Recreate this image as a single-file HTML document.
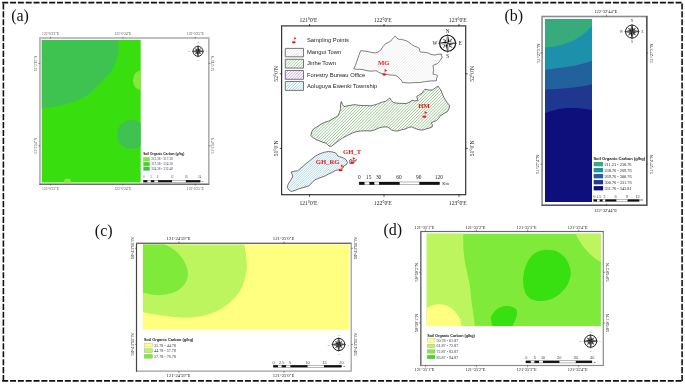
<!DOCTYPE html>
<html lang="en">
<head>
<meta charset="utf-8">
<title>Study area and soil organic carbon maps</title>
<style>
html,body{margin:0;padding:0;background:#fff;}
body{width:685px;height:384px;overflow:hidden;}
svg{display:block;}
text{white-space:pre;}
</style>
</head>
<body>
<svg width="685" height="384" viewBox="0 0 685 384">
<defs>
<clipPath id="clipA"><rect x="41.8" y="40.1" width="98.9" height="142.4"/></clipPath>
<clipPath id="clipB"><rect x="545" y="18.9" width="47.1" height="183.1"/></clipPath>
<clipPath id="clipC"><rect x="143.0" y="244.6" width="206.4" height="85.2"/></clipPath>
<clipPath id="clipD"><rect x="426.8" y="233.7" width="174.1" height="92.3"/></clipPath>
</defs>
<rect x="0" y="0" width="685" height="384" fill="#fff"/>

<g stroke="#111" stroke-width="1.6" fill="none">
<line x1="2.21" y1="2.6" x2="682.95" y2="2.6" stroke-dasharray="6 1.83"/>
<line x1="2.21" y1="380.9" x2="682.95" y2="380.9" stroke-dasharray="6 1.83"/>
<line x1="3.4" y1="3.40" x2="3.4" y2="381.75" stroke-dasharray="6.15 1.755"/>
<line x1="682.1" y1="3.40" x2="682.1" y2="381.75" stroke-dasharray="6.15 1.755"/>
</g>
<text x="11.2" y="21.0" font-size="16" font-family='"Liberation Serif", serif' fill="#111">(a)</text>
<text x="504.5" y="20.7" font-size="16" font-family='"Liberation Serif", serif' fill="#111">(b)</text>
<text x="94.8" y="235.6" font-size="16" font-family='"Liberation Serif", serif' fill="#111">(c)</text>
<text x="383.5" y="235.4" font-size="16" font-family='"Liberation Serif", serif' fill="#111">(d)</text>
<g id="panelA">
<rect x="39.95" y="38.0" width="168.85" height="146.2" fill="#fff" stroke="#adadad" stroke-width="1.6"/>
<line x1="39.2" y1="38.0" x2="209.3" y2="38.0" stroke="#c2c2c2" stroke-width="1.4"/>
<line x1="39.2" y1="184.2" x2="209.3" y2="184.2" stroke="#5a5a5a" stroke-width="1.1"/>
<g clip-path="url(#clipA)">
<rect x="41" y="39" width="101" height="145" fill="#38de0e"/>
<path d="M41,39 L118.30,39.00 C118.30,40.93 118.65,46.93 118.30,50.60 C117.95,54.27 117.42,57.53 116.20,61.00 C114.98,64.47 113.27,68.10 111.00,71.40 C108.73,74.70 105.55,77.67 102.60,80.80 C99.65,83.93 96.77,87.23 93.30,90.20 C89.83,93.17 86.15,96.33 81.80,98.60 C77.45,100.87 72.07,102.42 67.20,103.80 C62.33,105.18 56.97,106.12 52.60,106.90 C48.23,107.68 42.93,108.23 41.00,108.50 Z" fill="#3fc350"/>
<ellipse cx="131.6" cy="134.4" rx="14.5" ry="14.7" fill="#3fc350"/>
<ellipse cx="141.2" cy="80.3" rx="8.3" ry="9.9" fill="#84e93c"/>
<ellipse cx="67.5" cy="182.8" rx="3.6" ry="4.2" fill="#84e93c"/>
</g>
<g>
<circle cx="198.0" cy="51.3" r="5.0" fill="#fff" stroke="#1a1a1a" stroke-width="0.90"/>
<polygon points="200.83,48.47 198.95,52.25 198.0,51.3" fill="#1a1a1a"/>
<polygon points="200.83,48.47 197.05,50.35 198.0,51.3" fill="#6a6a6a" stroke="#1a1a1a" stroke-width="0.25"/>
<polygon points="200.83,54.13 197.05,52.25 198.0,51.3" fill="#1a1a1a"/>
<polygon points="200.83,54.13 198.95,50.35 198.0,51.3" fill="#6a6a6a" stroke="#1a1a1a" stroke-width="0.25"/>
<polygon points="195.17,54.13 197.05,50.35 198.0,51.3" fill="#1a1a1a"/>
<polygon points="195.17,54.13 198.95,52.25 198.0,51.3" fill="#6a6a6a" stroke="#1a1a1a" stroke-width="0.25"/>
<polygon points="195.17,48.47 198.95,50.35 198.0,51.3" fill="#1a1a1a"/>
<polygon points="195.17,48.47 197.05,52.25 198.0,51.3" fill="#6a6a6a" stroke="#1a1a1a" stroke-width="0.25"/>
<polygon points="198.00,45.45 199.17,50.13 198.0,51.3" fill="#1a1a1a"/>
<polygon points="198.00,45.45 196.83,50.13 198.0,51.3" fill="#6a6a6a" stroke="#1a1a1a" stroke-width="0.3"/>
<polygon points="203.85,51.30 199.17,52.47 198.0,51.3" fill="#1a1a1a"/>
<polygon points="203.85,51.30 199.17,50.13 198.0,51.3" fill="#6a6a6a" stroke="#1a1a1a" stroke-width="0.3"/>
<polygon points="198.00,57.15 196.83,52.47 198.0,51.3" fill="#1a1a1a"/>
<polygon points="198.00,57.15 199.17,52.47 198.0,51.3" fill="#6a6a6a" stroke="#1a1a1a" stroke-width="0.3"/>
<polygon points="192.15,51.30 196.83,50.13 198.0,51.3" fill="#1a1a1a"/>
<polygon points="192.15,51.30 196.83,52.47 198.0,51.3" fill="#6a6a6a" stroke="#1a1a1a" stroke-width="0.3"/>
<text x="198.0" y="42.8" font-size="2.4" font-family='"Liberation Serif", serif' text-anchor="middle" fill="#556" font-weight="normal" dominant-baseline="central">N</text>
<text x="198.0" y="60.099999999999994" font-size="2.4" font-family='"Liberation Serif", serif' text-anchor="middle" fill="#556" font-weight="normal" dominant-baseline="central">S</text>
<text x="189.2" y="51.3" font-size="2.4" font-family='"Liberation Serif", serif' text-anchor="middle" fill="#556" font-weight="normal" dominant-baseline="central">W</text>
<text x="206.8" y="51.3" font-size="2.4" font-family='"Liberation Serif", serif' text-anchor="middle" fill="#556" font-weight="normal" dominant-baseline="central">E</text>
</g>
<text x="143.2" y="153.8" font-size="3.25" font-family='"Liberation Sans", sans-serif' text-anchor="start" fill="#111" font-weight="bold" dominant-baseline="central">Soil Organic Carbon (g/kg)</text>
<rect x="143.4" y="157.40" width="6.3" height="3.7" fill="#84e93c" stroke="#8a8" stroke-width="0.25"/>
<text x="151.2" y="159.25" font-size="3.4" font-family='"Liberation Serif", serif' text-anchor="start" fill="#3a4250" font-weight="normal" dominant-baseline="central">313.38 - 317.38</text>
<rect x="143.4" y="162.15" width="6.3" height="3.7" fill="#38de0e" stroke="#8a8" stroke-width="0.25"/>
<text x="151.2" y="164.0" font-size="3.4" font-family='"Liberation Serif", serif' text-anchor="start" fill="#3a4250" font-weight="normal" dominant-baseline="central">317.38 - 324.38</text>
<rect x="143.4" y="166.90" width="6.3" height="3.7" fill="#3fc350" stroke="#8a8" stroke-width="0.25"/>
<text x="151.2" y="168.75" font-size="3.4" font-family='"Liberation Serif", serif' text-anchor="start" fill="#3a4250" font-weight="normal" dominant-baseline="central">324.38 - 332.48</text>
<rect x="143.4" y="180.15" width="56.79999999999998" height="2.0" fill="#fff" stroke="#111" stroke-width="0.3"/>
<rect x="143.40" y="180.15" width="4.03" height="2.0" fill="#111"/>
<rect x="150.84" y="180.15" width="3.46" height="2.0" fill="#111"/>
<rect x="158.11" y="180.15" width="13.97" height="2.0" fill="#111"/>
<rect x="185.83" y="180.15" width="14.37" height="2.0" fill="#111"/>
<text x="144.0" y="177.2" font-size="3.0" font-family='"Liberation Serif", serif' text-anchor="middle" fill="#4a5a70" font-weight="normal" dominant-baseline="central">0</text>
<text x="150.9" y="177.2" font-size="3.0" font-family='"Liberation Serif", serif' text-anchor="middle" fill="#4a5a70" font-weight="normal" dominant-baseline="central">3</text>
<text x="157.4" y="177.2" font-size="3.0" font-family='"Liberation Serif", serif' text-anchor="middle" fill="#4a5a70" font-weight="normal" dominant-baseline="central">6</text>
<text x="172.1" y="177.2" font-size="3.0" font-family='"Liberation Serif", serif' text-anchor="middle" fill="#4a5a70" font-weight="normal" dominant-baseline="central">12</text>
<text x="185.9" y="177.2" font-size="3.0" font-family='"Liberation Serif", serif' text-anchor="middle" fill="#4a5a70" font-weight="normal" dominant-baseline="central">18</text>
<text x="199.6" y="177.2" font-size="3.0" font-family='"Liberation Serif", serif' text-anchor="middle" fill="#4a5a70" font-weight="normal" dominant-baseline="central">24</text>
<text x="202.6" y="181.2" font-size="2.6" font-family='"Liberation Serif", serif' text-anchor="middle" fill="#333" font-weight="normal" dominant-baseline="central">m</text>
<text x="50.6" y="33.8" font-size="3.7" font-family='"Liberation Serif", serif' text-anchor="middle" fill="#555" font-weight="normal" dominant-baseline="central">122°0'23"E</text>
<text x="50.6" y="188.5" font-size="3.7" font-family='"Liberation Serif", serif' text-anchor="middle" fill="#555" font-weight="normal" dominant-baseline="central">122°0'23"E</text>
<line x1="50.6" y1="36.8" x2="50.6" y2="38.4" stroke="#333" stroke-width="0.5"/>
<line x1="50.6" y1="183.9" x2="50.6" y2="185.5" stroke="#333" stroke-width="0.5"/>
<text x="122.9" y="33.8" font-size="3.7" font-family='"Liberation Serif", serif' text-anchor="middle" fill="#555" font-weight="normal" dominant-baseline="central">122°0'24"E</text>
<text x="122.9" y="188.5" font-size="3.7" font-family='"Liberation Serif", serif' text-anchor="middle" fill="#555" font-weight="normal" dominant-baseline="central">122°0'24"E</text>
<line x1="122.9" y1="36.8" x2="122.9" y2="38.4" stroke="#333" stroke-width="0.5"/>
<line x1="122.9" y1="183.9" x2="122.9" y2="185.5" stroke="#333" stroke-width="0.5"/>
<text x="195.3" y="33.8" font-size="3.7" font-family='"Liberation Serif", serif' text-anchor="middle" fill="#555" font-weight="normal" dominant-baseline="central">122°0'25"E</text>
<text x="195.3" y="188.5" font-size="3.7" font-family='"Liberation Serif", serif' text-anchor="middle" fill="#555" font-weight="normal" dominant-baseline="central">122°0'25"E</text>
<line x1="195.3" y1="36.8" x2="195.3" y2="38.4" stroke="#333" stroke-width="0.5"/>
<line x1="195.3" y1="183.9" x2="195.3" y2="185.5" stroke="#333" stroke-width="0.5"/>
<text x="36.4" y="63.4" font-size="3.75" font-family='"Liberation Serif", serif' text-anchor="middle" fill="#555" font-weight="normal" dominant-baseline="central" transform="rotate(-90 36.4 63.4)">52°2'15"N</text>
<text x="212.7" y="63.4" font-size="3.75" font-family='"Liberation Serif", serif' text-anchor="middle" fill="#555" font-weight="normal" dominant-baseline="central" transform="rotate(-90 212.7 63.4)">52°2'15"N</text>
<line x1="38.4" y1="63.4" x2="40.2" y2="63.4" stroke="#333" stroke-width="0.5"/>
<line x1="208.6" y1="63.4" x2="210.4" y2="63.4" stroke="#333" stroke-width="0.5"/>
<text x="36.4" y="145.8" font-size="3.75" font-family='"Liberation Serif", serif' text-anchor="middle" fill="#555" font-weight="normal" dominant-baseline="central" transform="rotate(-90 36.4 145.8)">52°2'14"N</text>
<text x="212.7" y="145.8" font-size="3.75" font-family='"Liberation Serif", serif' text-anchor="middle" fill="#555" font-weight="normal" dominant-baseline="central" transform="rotate(-90 212.7 145.8)">52°2'14"N</text>
<line x1="38.4" y1="145.8" x2="40.2" y2="145.8" stroke="#333" stroke-width="0.5"/>
<line x1="208.6" y1="145.8" x2="210.4" y2="145.8" stroke="#333" stroke-width="0.5"/>
</g>
<g id="panelMap">
<rect x="281.6" y="25.9" width="184.1" height="168.8" fill="#fff" stroke="#333" stroke-width="1.2"/>
<text x="308.40000000000003" y="19.7" font-size="5.6" font-family='"Liberation Serif", serif' text-anchor="middle" fill="#222" font-weight="normal" dominant-baseline="central">121°0'E</text>
<text x="308.40000000000003" y="202.7" font-size="5.6" font-family='"Liberation Serif", serif' text-anchor="middle" fill="#222" font-weight="normal" dominant-baseline="central">121°0'E</text>
<line x1="309.6" y1="24.0" x2="309.6" y2="26.2" stroke="#111" stroke-width="0.7"/>
<line x1="309.6" y1="194.6" x2="309.6" y2="196.8" stroke="#111" stroke-width="0.7"/>
<text x="382.8" y="19.7" font-size="5.6" font-family='"Liberation Serif", serif' text-anchor="middle" fill="#222" font-weight="normal" dominant-baseline="central">122°0'E</text>
<text x="382.8" y="202.7" font-size="5.6" font-family='"Liberation Serif", serif' text-anchor="middle" fill="#222" font-weight="normal" dominant-baseline="central">122°0'E</text>
<line x1="384.0" y1="24.0" x2="384.0" y2="26.2" stroke="#111" stroke-width="0.7"/>
<line x1="384.0" y1="194.6" x2="384.0" y2="196.8" stroke="#111" stroke-width="0.7"/>
<text x="457.8" y="19.7" font-size="5.6" font-family='"Liberation Serif", serif' text-anchor="middle" fill="#222" font-weight="normal" dominant-baseline="central">123°0'E</text>
<text x="457.8" y="202.7" font-size="5.6" font-family='"Liberation Serif", serif' text-anchor="middle" fill="#222" font-weight="normal" dominant-baseline="central">123°0'E</text>
<line x1="459.0" y1="24.0" x2="459.0" y2="26.2" stroke="#111" stroke-width="0.7"/>
<line x1="459.0" y1="194.6" x2="459.0" y2="196.8" stroke="#111" stroke-width="0.7"/>
<text x="276.0" y="73.8" font-size="5.6" font-family='"Liberation Serif", serif' text-anchor="middle" fill="#222" font-weight="normal" dominant-baseline="central" transform="rotate(-90 276.0 73.8)">52°0'N</text>
<text x="472.4" y="73.8" font-size="5.6" font-family='"Liberation Serif", serif' text-anchor="middle" fill="#222" font-weight="normal" dominant-baseline="central" transform="rotate(-90 472.4 73.8)">52°0'N</text>
<line x1="279.8" y1="73.8" x2="282" y2="73.8" stroke="#111" stroke-width="0.7"/>
<line x1="465.6" y1="73.8" x2="467.8" y2="73.8" stroke="#111" stroke-width="0.7"/>
<text x="276.0" y="148.4" font-size="5.6" font-family='"Liberation Serif", serif' text-anchor="middle" fill="#222" font-weight="normal" dominant-baseline="central" transform="rotate(-90 276.0 148.4)">51°0'N</text>
<text x="472.4" y="148.4" font-size="5.6" font-family='"Liberation Serif", serif' text-anchor="middle" fill="#222" font-weight="normal" dominant-baseline="central" transform="rotate(-90 472.4 148.4)">51°0'N</text>
<line x1="279.8" y1="148.4" x2="282" y2="148.4" stroke="#111" stroke-width="0.7"/>
<line x1="465.6" y1="148.4" x2="467.8" y2="148.4" stroke="#111" stroke-width="0.7"/>
<clipPath id="hc1"><polygon points="360.6,50.7 364.5,51.0 368.7,51.7 372,52.6 375.5,52.9 378,52.0 380.5,50.4 382.8,46.8 385.6,43.6 388,42.6 390.7,41.1 393,38.2 395.3,36.0 397,38.2 399.1,39.4 401.5,39.3 403.4,39.9 406,40.6 408.5,41.9 411.5,44.4 414.4,46.2 417,47.0 419.5,48.7 419.6,50.6 420.3,52.1 424,52.2 427.9,52.9 431,54.4 434.7,55.1 438,54.2 441.8,54.1 441.4,55.8 442.3,57.1 440,60.8 437.2,63.9 435,64.4 433,65.6 433.6,69.8 433,74.1 435.5,74.6 437.7,75.8 436.5,78.4 436.4,80.8 430,81.0 424.5,81.7 420,82.6 416.1,82.5 409,83.0 402.5,82.5 401.5,80.5 400,79.1 398,76.8 395.8,75.4 390,75.0 385.6,74.1 382,73.6 378.8,72.4 377,71.0 375.5,70.7 371,71.2 367,70.7 363,69.6 359.4,69.3 356.5,69.4 353.8,68.7 355.6,65.0 356.8,61.4 358.6,56.0"/></clipPath>
<polygon points="360.6,50.7 364.5,51.0 368.7,51.7 372,52.6 375.5,52.9 378,52.0 380.5,50.4 382.8,46.8 385.6,43.6 388,42.6 390.7,41.1 393,38.2 395.3,36.0 397,38.2 399.1,39.4 401.5,39.3 403.4,39.9 406,40.6 408.5,41.9 411.5,44.4 414.4,46.2 417,47.0 419.5,48.7 419.6,50.6 420.3,52.1 424,52.2 427.9,52.9 431,54.4 434.7,55.1 438,54.2 441.8,54.1 441.4,55.8 442.3,57.1 440,60.8 437.2,63.9 435,64.4 433,65.6 433.6,69.8 433,74.1 435.5,74.6 437.7,75.8 436.5,78.4 436.4,80.8 430,81.0 424.5,81.7 420,82.6 416.1,82.5 409,83.0 402.5,82.5 401.5,80.5 400,79.1 398,76.8 395.8,75.4 390,75.0 385.6,74.1 382,73.6 378.8,72.4 377,71.0 375.5,70.7 371,71.2 367,70.7 363,69.6 359.4,69.3 356.5,69.4 353.8,68.7 355.6,65.0 356.8,61.4 358.6,56.0" fill="#fff"/>
<path d="M352.80,36.60L354.40,35.00M352.80,39.55L357.35,35.00M352.80,42.50L360.30,35.00M352.80,45.45L363.25,35.00M352.80,48.40L366.20,35.00M352.80,51.35L369.15,35.00M352.80,54.30L372.10,35.00M352.80,57.25L375.05,35.00M352.80,60.20L378.00,35.00M352.80,63.15L380.95,35.00M352.80,66.10L383.90,35.00M352.80,69.05L386.85,35.00M352.80,72.00L389.80,35.00M352.80,74.95L392.75,35.00M352.80,77.90L395.70,35.00M352.80,80.85L398.65,35.00M352.80,83.80L401.60,35.00M355.55,84.00L404.55,35.00M358.50,84.00L407.50,35.00M361.45,84.00L410.45,35.00M364.40,84.00L413.40,35.00M367.35,84.00L416.35,35.00M370.30,84.00L419.30,35.00M373.25,84.00L422.25,35.00M376.20,84.00L425.20,35.00M379.15,84.00L428.15,35.00M382.10,84.00L431.10,35.00M385.05,84.00L434.05,35.00M388.00,84.00L437.00,35.00M390.95,84.00L439.95,35.00M393.90,84.00L442.90,35.00M396.85,84.00L443.30,37.55M399.80,84.00L443.30,40.50M402.75,84.00L443.30,43.45M405.70,84.00L443.30,46.40M408.65,84.00L443.30,49.35M411.60,84.00L443.30,52.30M414.55,84.00L443.30,55.25M417.50,84.00L443.30,58.20M420.45,84.00L443.30,61.15M423.40,84.00L443.30,64.10M426.35,84.00L443.30,67.05M429.30,84.00L443.30,70.00M432.25,84.00L443.30,72.95M435.20,84.00L443.30,75.90M438.15,84.00L443.30,78.85M441.10,84.00L443.30,81.80" stroke="#e8e8e8" stroke-width="0.8" fill="none" clip-path="url(#hc1)"/>
<polygon points="360.6,50.7 364.5,51.0 368.7,51.7 372,52.6 375.5,52.9 378,52.0 380.5,50.4 382.8,46.8 385.6,43.6 388,42.6 390.7,41.1 393,38.2 395.3,36.0 397,38.2 399.1,39.4 401.5,39.3 403.4,39.9 406,40.6 408.5,41.9 411.5,44.4 414.4,46.2 417,47.0 419.5,48.7 419.6,50.6 420.3,52.1 424,52.2 427.9,52.9 431,54.4 434.7,55.1 438,54.2 441.8,54.1 441.4,55.8 442.3,57.1 440,60.8 437.2,63.9 435,64.4 433,65.6 433.6,69.8 433,74.1 435.5,74.6 437.7,75.8 436.5,78.4 436.4,80.8 430,81.0 424.5,81.7 420,82.6 416.1,82.5 409,83.0 402.5,82.5 401.5,80.5 400,79.1 398,76.8 395.8,75.4 390,75.0 385.6,74.1 382,73.6 378.8,72.4 377,71.0 375.5,70.7 371,71.2 367,70.7 363,69.6 359.4,69.3 356.5,69.4 353.8,68.7 355.6,65.0 356.8,61.4 358.6,56.0" fill="none" stroke="#4a4a4a" stroke-width="0.7" stroke-linejoin="round"/>
<clipPath id="hc2"><polygon points="310.8,135.6 311.6,132.0 313.4,129.0 317,126.8 321.3,123.9 325,122.2 329,121.0 333,118.8 338.2,115.6 339.6,112.0 340.6,108.5 340.4,104.5 341.3,101.5 342.6,104.6 344.0,106.6 348,105.8 354.5,104.6 360,105.4 365,105.6 370.9,105.8 375,104.8 378.5,103.6 382,102.2 385.5,101.4 388,99.6 389.8,97.9 391.4,100.6 393.4,102.6 397,103.2 401.5,103.4 406,103.6 410,102.0 411.7,100.3 415,100.9 417.9,100.3 417.0,98.0 416.9,96.2 419.5,94.8 422,93.2 423.6,90.8 425,89.1 428.5,90.0 432.2,90.1 435,88.2 437.9,86.0 439.6,88.4 441.4,91.1 442.6,94.8 444.4,98.3 446.6,102.0 449.6,105.4 449.0,108.6 447.5,111.6 444,113.4 440.4,115.7 438.6,118.6 436.3,120.8 433.6,121.6 431.2,122.8 432.4,124.8 432.2,126.9 429,128.2 426,128.9 423,130.0 420,130.0 416,128.8 411.7,126.9 408.5,127.4 405.6,128.9 401.5,129.8 397.4,131.0 394.2,130.8 391.3,130.0 389.4,128.2 387.2,126.9 383,127.0 379,127.9 375,129.8 370.9,131.0 366,130.8 360.7,131.0 356.5,131.6 352.5,133.0 347.5,135.4 342.3,138.1 338,141.2 334,144.3 331.5,146.2 329,146.2 327.6,144.4 326.5,143.4 321,141.6 316,139.5 313.2,137.8"/></clipPath>
<polygon points="310.8,135.6 311.6,132.0 313.4,129.0 317,126.8 321.3,123.9 325,122.2 329,121.0 333,118.8 338.2,115.6 339.6,112.0 340.6,108.5 340.4,104.5 341.3,101.5 342.6,104.6 344.0,106.6 348,105.8 354.5,104.6 360,105.4 365,105.6 370.9,105.8 375,104.8 378.5,103.6 382,102.2 385.5,101.4 388,99.6 389.8,97.9 391.4,100.6 393.4,102.6 397,103.2 401.5,103.4 406,103.6 410,102.0 411.7,100.3 415,100.9 417.9,100.3 417.0,98.0 416.9,96.2 419.5,94.8 422,93.2 423.6,90.8 425,89.1 428.5,90.0 432.2,90.1 435,88.2 437.9,86.0 439.6,88.4 441.4,91.1 442.6,94.8 444.4,98.3 446.6,102.0 449.6,105.4 449.0,108.6 447.5,111.6 444,113.4 440.4,115.7 438.6,118.6 436.3,120.8 433.6,121.6 431.2,122.8 432.4,124.8 432.2,126.9 429,128.2 426,128.9 423,130.0 420,130.0 416,128.8 411.7,126.9 408.5,127.4 405.6,128.9 401.5,129.8 397.4,131.0 394.2,130.8 391.3,130.0 389.4,128.2 387.2,126.9 383,127.0 379,127.9 375,129.8 370.9,131.0 366,130.8 360.7,131.0 356.5,131.6 352.5,133.0 347.5,135.4 342.3,138.1 338,141.2 334,144.3 331.5,146.2 329,146.2 327.6,144.4 326.5,143.4 321,141.6 316,139.5 313.2,137.8" fill="#fff"/>
<path d="M309.80,85.50L310.30,85.00M309.80,88.45L313.25,85.00M309.80,91.40L316.20,85.00M309.80,94.35L319.15,85.00M309.80,97.30L322.10,85.00M309.80,100.25L325.05,85.00M309.80,103.20L328.00,85.00M309.80,106.15L330.95,85.00M309.80,109.10L333.90,85.00M309.80,112.05L336.85,85.00M309.80,115.00L339.80,85.00M309.80,117.95L342.75,85.00M309.80,120.90L345.70,85.00M309.80,123.85L348.65,85.00M309.80,126.80L351.60,85.00M309.80,129.75L354.55,85.00M309.80,132.70L357.50,85.00M309.80,135.65L360.45,85.00M309.80,138.60L363.40,85.00M309.80,141.55L366.35,85.00M309.80,144.50L369.30,85.00M310.05,147.20L372.25,85.00M313.00,147.20L375.20,85.00M315.95,147.20L378.15,85.00M318.90,147.20L381.10,85.00M321.85,147.20L384.05,85.00M324.80,147.20L387.00,85.00M327.75,147.20L389.95,85.00M330.70,147.20L392.90,85.00M333.65,147.20L395.85,85.00M336.60,147.20L398.80,85.00M339.55,147.20L401.75,85.00M342.50,147.20L404.70,85.00M345.45,147.20L407.65,85.00M348.40,147.20L410.60,85.00M351.35,147.20L413.55,85.00M354.30,147.20L416.50,85.00M357.25,147.20L419.45,85.00M360.20,147.20L422.40,85.00M363.15,147.20L425.35,85.00M366.10,147.20L428.30,85.00M369.05,147.20L431.25,85.00M372.00,147.20L434.20,85.00M374.95,147.20L437.15,85.00M377.90,147.20L440.10,85.00M380.85,147.20L443.05,85.00M383.80,147.20L446.00,85.00M386.75,147.20L448.95,85.00M389.70,147.20L450.60,86.30M392.65,147.20L450.60,89.25M395.60,147.20L450.60,92.20M398.55,147.20L450.60,95.15M401.50,147.20L450.60,98.10M404.45,147.20L450.60,101.05M407.40,147.20L450.60,104.00M410.35,147.20L450.60,106.95M413.30,147.20L450.60,109.90M416.25,147.20L450.60,112.85M419.20,147.20L450.60,115.80M422.15,147.20L450.60,118.75M425.10,147.20L450.60,121.70M428.05,147.20L450.60,124.65M431.00,147.20L450.60,127.60M433.95,147.20L450.60,130.55M436.90,147.20L450.60,133.50M439.85,147.20L450.60,136.45M442.80,147.20L450.60,139.40M445.75,147.20L450.60,142.35M448.70,147.20L450.60,145.30" stroke="#98c490" stroke-width="0.95" fill="none" clip-path="url(#hc2)"/>
<polygon points="310.8,135.6 311.6,132.0 313.4,129.0 317,126.8 321.3,123.9 325,122.2 329,121.0 333,118.8 338.2,115.6 339.6,112.0 340.6,108.5 340.4,104.5 341.3,101.5 342.6,104.6 344.0,106.6 348,105.8 354.5,104.6 360,105.4 365,105.6 370.9,105.8 375,104.8 378.5,103.6 382,102.2 385.5,101.4 388,99.6 389.8,97.9 391.4,100.6 393.4,102.6 397,103.2 401.5,103.4 406,103.6 410,102.0 411.7,100.3 415,100.9 417.9,100.3 417.0,98.0 416.9,96.2 419.5,94.8 422,93.2 423.6,90.8 425,89.1 428.5,90.0 432.2,90.1 435,88.2 437.9,86.0 439.6,88.4 441.4,91.1 442.6,94.8 444.4,98.3 446.6,102.0 449.6,105.4 449.0,108.6 447.5,111.6 444,113.4 440.4,115.7 438.6,118.6 436.3,120.8 433.6,121.6 431.2,122.8 432.4,124.8 432.2,126.9 429,128.2 426,128.9 423,130.0 420,130.0 416,128.8 411.7,126.9 408.5,127.4 405.6,128.9 401.5,129.8 397.4,131.0 394.2,130.8 391.3,130.0 389.4,128.2 387.2,126.9 383,127.0 379,127.9 375,129.8 370.9,131.0 366,130.8 360.7,131.0 356.5,131.6 352.5,133.0 347.5,135.4 342.3,138.1 338,141.2 334,144.3 331.5,146.2 329,146.2 327.6,144.4 326.5,143.4 321,141.6 316,139.5 313.2,137.8" fill="none" stroke="#3a3a3a" stroke-width="0.7" stroke-linejoin="round"/>
<clipPath id="hc3"><polygon points="288,188.6 289.6,190.6 291.5,191.5 295.5,190.2 299.3,188.6 304,187.4 309,185.7 312.2,182.6 314.9,179.8 318.8,178.2 322.7,176.9 325.8,175.6 328.6,173.9 331.8,172.6 335.5,170.5 338.4,169.8 340.9,169.2 343.2,167.8 343.7,166.0 346.4,164.6 347.5,162.3 346.0,159.6 343.8,158.2 341.9,157.3 339.6,156.8 337.7,156.0 336.8,154.2 335.5,152.8 332,151.9 328.6,151.5 324.6,152.2 320.8,153.4 317.8,154.8 314.9,156.4 312,158.8 309,161.3 306,163.6 303.2,166.1 300.2,168.6 297.3,171.0 294.2,171.2 291.1,172.0 292.2,174.4 292.5,176.9 291.2,179.4 289.5,181.8 288.4,183.8 287.6,185.7 287.4,187.2"/></clipPath>
<polygon points="288,188.6 289.6,190.6 291.5,191.5 295.5,190.2 299.3,188.6 304,187.4 309,185.7 312.2,182.6 314.9,179.8 318.8,178.2 322.7,176.9 325.8,175.6 328.6,173.9 331.8,172.6 335.5,170.5 338.4,169.8 340.9,169.2 343.2,167.8 343.7,166.0 346.4,164.6 347.5,162.3 346.0,159.6 343.8,158.2 341.9,157.3 339.6,156.8 337.7,156.0 336.8,154.2 335.5,152.8 332,151.9 328.6,151.5 324.6,152.2 320.8,153.4 317.8,154.8 314.9,156.4 312,158.8 309,161.3 306,163.6 303.2,166.1 300.2,168.6 297.3,171.0 294.2,171.2 291.1,172.0 292.2,174.4 292.5,176.9 291.2,179.4 289.5,181.8 288.4,183.8 287.6,185.7 287.4,187.2" fill="#fff"/>
<path d="M286.40,150.70L286.60,150.50M286.40,153.05L288.95,150.50M286.40,155.40L291.30,150.50M286.40,157.75L293.65,150.50M286.40,160.10L296.00,150.50M286.40,162.45L298.35,150.50M286.40,164.80L300.70,150.50M286.40,167.15L303.05,150.50M286.40,169.50L305.40,150.50M286.40,171.85L307.75,150.50M286.40,174.20L310.10,150.50M286.40,176.55L312.45,150.50M286.40,178.90L314.80,150.50M286.40,181.25L317.15,150.50M286.40,183.60L319.50,150.50M286.40,185.95L321.85,150.50M286.40,188.30L324.20,150.50M286.40,190.65L326.55,150.50M286.90,192.50L328.90,150.50M289.25,192.50L331.25,150.50M291.60,192.50L333.60,150.50M293.95,192.50L335.95,150.50M296.30,192.50L338.30,150.50M298.65,192.50L340.65,150.50M301.00,192.50L343.00,150.50M303.35,192.50L345.35,150.50M305.70,192.50L347.70,150.50M308.05,192.50L348.50,152.05M310.40,192.50L348.50,154.40M312.75,192.50L348.50,156.75M315.10,192.50L348.50,159.10M317.45,192.50L348.50,161.45M319.80,192.50L348.50,163.80M322.15,192.50L348.50,166.15M324.50,192.50L348.50,168.50M326.85,192.50L348.50,170.85M329.20,192.50L348.50,173.20M331.55,192.50L348.50,175.55M333.90,192.50L348.50,177.90M336.25,192.50L348.50,180.25M338.60,192.50L348.50,182.60M340.95,192.50L348.50,184.95M343.30,192.50L348.50,187.30M345.65,192.50L348.50,189.65M348.00,192.50L348.50,192.00" stroke="#9fd0e4" stroke-width="0.8" fill="none" clip-path="url(#hc3)"/>
<polygon points="288,188.6 289.6,190.6 291.5,191.5 295.5,190.2 299.3,188.6 304,187.4 309,185.7 312.2,182.6 314.9,179.8 318.8,178.2 322.7,176.9 325.8,175.6 328.6,173.9 331.8,172.6 335.5,170.5 338.4,169.8 340.9,169.2 343.2,167.8 343.7,166.0 346.4,164.6 347.5,162.3 346.0,159.6 343.8,158.2 341.9,157.3 339.6,156.8 337.7,156.0 336.8,154.2 335.5,152.8 332,151.9 328.6,151.5 324.6,152.2 320.8,153.4 317.8,154.8 314.9,156.4 312,158.8 309,161.3 306,163.6 303.2,166.1 300.2,168.6 297.3,171.0 294.2,171.2 291.1,172.0 292.2,174.4 292.5,176.9 291.2,179.4 289.5,181.8 288.4,183.8 287.6,185.7 287.4,187.2" fill="none" stroke="#3a3a3a" stroke-width="0.7" stroke-linejoin="round"/>
<clipPath id="hc4"><polygon points="349.6,160.0 351.2,159.2 351.4,161.0 354.8,160.4 356.6,159.6 355.4,161.4 352.6,163.2 349.8,163.6"/></clipPath>
<polygon points="349.6,160.0 351.2,159.2 351.4,161.0 354.8,160.4 356.6,159.6 355.4,161.4 352.6,163.2 349.8,163.6" fill="#fff"/>
<path d="M348.60,158.40L348.80,158.20M348.60,161.00L351.40,158.20M348.60,163.60L354.00,158.20M350.20,164.60L356.60,158.20M352.80,164.60L357.60,159.80M355.40,164.60L357.60,162.40" stroke="#c58ae6" stroke-width="0.8" fill="none" clip-path="url(#hc4)"/>
<polygon points="349.6,160.0 351.2,159.2 351.4,161.0 354.8,160.4 356.6,159.6 355.4,161.4 352.6,163.2 349.8,163.6" fill="none" stroke="#333" stroke-width="0.6" stroke-linejoin="round"/>
<g transform="translate(294.2 40.2) scale(0.95)"><ellipse cx="-0.4" cy="2.2" rx="2.0" ry="1.15" fill="#f01010"/><polygon points="0.0,-3.4 2.5,-2.0 0.0,-0.5" fill="#f01010"/><line x1="0.2" y1="-3.2" x2="0.0" y2="2" stroke="#f6a0a0" stroke-width="0.4"/></g>
<text x="307.0" y="40.3" font-size="5.8" font-family='"Liberation Sans", sans-serif' text-anchor="start" fill="#222" font-weight="normal" dominant-baseline="central">Sampling Points</text>
<clipPath id="hc5"><polygon points="285.3,48.4 303.5,48.4 303.5,56.8 285.3,56.8"/></clipPath>
<polygon points="285.3,48.4 303.5,48.4 303.5,56.8 285.3,56.8" fill="#fff"/>
<path d="M284.30,49.15L286.05,47.40M284.30,52.00L288.90,47.40M284.30,54.85L291.75,47.40M284.30,57.70L294.60,47.40M287.05,57.80L297.45,47.40M289.90,57.80L300.30,47.40M292.75,57.80L303.15,47.40M295.60,57.80L304.50,48.90M298.45,57.80L304.50,51.75M301.30,57.80L304.50,54.60M304.15,57.80L304.50,57.45" stroke="#e2e2e2" stroke-width="0.8" fill="none" clip-path="url(#hc5)"/>
<polygon points="285.3,48.4 303.5,48.4 303.5,56.8 285.3,56.8" fill="none" stroke="#6a6a6a" stroke-width="0.9" stroke-linejoin="round"/>
<text x="307.0" y="51.89999999999999" font-size="5.8" font-family='"Liberation Sans", sans-serif' text-anchor="start" fill="#222" font-weight="normal" dominant-baseline="central">Mangui Town</text>
<clipPath id="hc6"><polygon points="285.3,59.3 303.5,59.3 303.5,68.1 285.3,68.1"/></clipPath>
<polygon points="285.3,59.3 303.5,59.3 303.5,68.1 285.3,68.1" fill="#fff"/>
<path d="M284.30,60.55L286.55,58.30M284.30,63.40L289.40,58.30M284.30,66.25L292.25,58.30M284.30,69.10L295.10,58.30M287.15,69.10L297.95,58.30M290.00,69.10L300.80,58.30M292.85,69.10L303.65,58.30M295.70,69.10L304.50,60.30M298.55,69.10L304.50,63.15M301.40,69.10L304.50,66.00M304.25,69.10L304.50,68.85" stroke="#8fbf86" stroke-width="0.8" fill="none" clip-path="url(#hc6)"/>
<polygon points="285.3,59.3 303.5,59.3 303.5,68.1 285.3,68.1" fill="none" stroke="#6a6a6a" stroke-width="0.9" stroke-linejoin="round"/>
<text x="307.0" y="62.9" font-size="5.8" font-family='"Liberation Sans", sans-serif' text-anchor="start" fill="#222" font-weight="normal" dominant-baseline="central">Jinhe Town</text>
<clipPath id="hc7"><polygon points="285.3,70.5 303.5,70.5 303.5,79.3 285.3,79.3"/></clipPath>
<polygon points="285.3,70.5 303.5,70.5 303.5,79.3 285.3,79.3" fill="#fff"/>
<path d="M284.30,71.95L286.75,69.50M284.30,74.80L289.60,69.50M284.30,77.65L292.45,69.50M284.50,80.30L295.30,69.50M287.35,80.30L298.15,69.50M290.20,80.30L301.00,69.50M293.05,80.30L303.85,69.50M295.90,80.30L304.50,71.70M298.75,80.30L304.50,74.55M301.60,80.30L304.50,77.40M304.45,80.30L304.50,80.25" stroke="#c58ae6" stroke-width="0.8" fill="none" clip-path="url(#hc7)"/>
<polygon points="285.3,70.5 303.5,70.5 303.5,79.3 285.3,79.3" fill="none" stroke="#6a6a6a" stroke-width="0.9" stroke-linejoin="round"/>
<text x="307.0" y="74.5" font-size="5.8" font-family='"Liberation Sans", sans-serif' text-anchor="start" fill="#222" font-weight="normal" dominant-baseline="central">Forestry Bureau Office</text>
<clipPath id="hc8"><polygon points="285.3,81.5 303.5,81.5 303.5,90.4 285.3,90.4"/></clipPath>
<polygon points="285.3,81.5 303.5,81.5 303.5,90.4 285.3,90.4" fill="#fff"/>
<path d="M284.30,83.35L287.15,80.50M284.30,86.20L290.00,80.50M284.30,89.05L292.85,80.50M284.80,91.40L295.70,80.50M287.65,91.40L298.55,80.50M290.50,91.40L301.40,80.50M293.35,91.40L304.25,80.50M296.20,91.40L304.50,83.10M299.05,91.40L304.50,85.95M301.90,91.40L304.50,88.80" stroke="#8fcbd6" stroke-width="0.8" fill="none" clip-path="url(#hc8)"/>
<polygon points="285.3,81.5 303.5,81.5 303.5,90.4 285.3,90.4" fill="none" stroke="#6a6a6a" stroke-width="0.9" stroke-linejoin="round"/>
<text x="307.0" y="85.85000000000001" font-size="5.8" font-family='"Liberation Sans", sans-serif' text-anchor="start" fill="#222" font-weight="normal" dominant-baseline="central">Aoluguya Ewenki Township</text>
<text x="383.8" y="62.3" font-size="6.7" font-family='"Liberation Serif", serif' text-anchor="middle" fill="#e81818" font-weight="bold" dominant-baseline="central">MG</text>
<g transform="translate(384.7 72.4) scale(1.0)"><ellipse cx="-0.4" cy="2.2" rx="2.0" ry="1.15" fill="#f01010"/><polygon points="0.0,-3.4 2.5,-2.0 0.0,-0.5" fill="#f01010"/><line x1="0.2" y1="-3.2" x2="0.0" y2="2" stroke="#f6a0a0" stroke-width="0.4"/></g>
<text x="424.0" y="105.2" font-size="6.7" font-family='"Liberation Serif", serif' text-anchor="middle" fill="#e81818" font-weight="bold" dominant-baseline="central">HM</text>
<g transform="translate(424.7 114.5) scale(1.0)"><ellipse cx="-0.4" cy="2.2" rx="2.0" ry="1.15" fill="#f01010"/><polygon points="0.0,-3.4 2.5,-2.0 0.0,-0.5" fill="#f01010"/><line x1="0.2" y1="-3.2" x2="0.0" y2="2" stroke="#f6a0a0" stroke-width="0.4"/></g>
<text x="352.2" y="151.9" font-size="6.7" font-family='"Liberation Serif", serif' text-anchor="middle" fill="#e81818" font-weight="bold" dominant-baseline="central">GH_T</text>
<g transform="translate(352.8 160.5) scale(1.0)"><ellipse cx="-0.4" cy="2.2" rx="2.0" ry="1.15" fill="#f01010"/><polygon points="0.0,-3.4 2.5,-2.0 0.0,-0.5" fill="#f01010"/><line x1="0.2" y1="-3.2" x2="0.0" y2="2" stroke="#f6a0a0" stroke-width="0.4"/></g>
<text x="327.6" y="161.4" font-size="6.7" font-family='"Liberation Serif", serif' text-anchor="middle" fill="#e81818" font-weight="bold" dominant-baseline="central">GH_RG</text>
<g transform="translate(341.0 168.0) scale(1.0)"><ellipse cx="-0.4" cy="2.2" rx="2.0" ry="1.15" fill="#f01010"/><polygon points="0.0,-3.4 2.5,-2.0 0.0,-0.5" fill="#f01010"/><line x1="0.2" y1="-3.2" x2="0.0" y2="2" stroke="#f6a0a0" stroke-width="0.4"/></g>
<g>
<circle cx="447.6" cy="43.3" r="8.0" fill="#fff" stroke="#0a0a0a" stroke-width="1.12"/>
<polygon points="452.13,38.77 448.96,44.66 447.6,43.3" fill="#0a0a0a"/>
<polygon points="452.13,38.77 446.24,41.94 447.6,43.3" fill="#fff" stroke="#0a0a0a" stroke-width="0.25"/>
<polygon points="452.13,47.83 446.24,44.66 447.6,43.3" fill="#0a0a0a"/>
<polygon points="452.13,47.83 448.96,41.94 447.6,43.3" fill="#fff" stroke="#0a0a0a" stroke-width="0.25"/>
<polygon points="443.07,47.83 446.24,41.94 447.6,43.3" fill="#0a0a0a"/>
<polygon points="443.07,47.83 448.96,44.66 447.6,43.3" fill="#fff" stroke="#0a0a0a" stroke-width="0.25"/>
<polygon points="443.07,38.77 448.96,41.94 447.6,43.3" fill="#0a0a0a"/>
<polygon points="443.07,38.77 446.24,44.66 447.6,43.3" fill="#fff" stroke="#0a0a0a" stroke-width="0.25"/>
<polygon points="447.60,33.94 449.35,41.55 447.6,43.3" fill="#0a0a0a"/>
<polygon points="447.60,33.94 445.85,41.55 447.6,43.3" fill="#fff" stroke="#0a0a0a" stroke-width="0.3"/>
<polygon points="456.96,43.30 449.35,45.05 447.6,43.3" fill="#0a0a0a"/>
<polygon points="456.96,43.30 449.35,41.55 447.6,43.3" fill="#fff" stroke="#0a0a0a" stroke-width="0.3"/>
<polygon points="447.60,52.66 445.85,45.05 447.6,43.3" fill="#0a0a0a"/>
<polygon points="447.60,52.66 449.35,45.05 447.6,43.3" fill="#fff" stroke="#0a0a0a" stroke-width="0.3"/>
<polygon points="438.24,43.30 445.85,41.55 447.6,43.3" fill="#0a0a0a"/>
<polygon points="438.24,43.30 445.85,45.05 447.6,43.3" fill="#fff" stroke="#0a0a0a" stroke-width="0.3"/>
<text x="447.6" y="30.9" font-size="5.2" font-family='"Liberation Serif", serif' text-anchor="middle" fill="#222" font-weight="normal" dominant-baseline="central">N</text>
<text x="447.6" y="55.99999999999999" font-size="5.2" font-family='"Liberation Serif", serif' text-anchor="middle" fill="#222" font-weight="normal" dominant-baseline="central">S</text>
<text x="434.90000000000003" y="43.3" font-size="5.2" font-family='"Liberation Serif", serif' text-anchor="middle" fill="#222" font-weight="normal" dominant-baseline="central">W</text>
<text x="460.3" y="43.3" font-size="5.2" font-family='"Liberation Serif", serif' text-anchor="middle" fill="#222" font-weight="normal" dominant-baseline="central">E</text>
</g>
<rect x="359.1" y="182.0" width="80.5" height="2.8" fill="#fff" stroke="#111" stroke-width="0.3"/>
<rect x="359.10" y="182.0" width="5.43" height="2.8" fill="#111"/>
<rect x="369.40" y="182.0" width="4.91" height="2.8" fill="#111"/>
<rect x="379.02" y="182.0" width="20.65" height="2.8" fill="#111"/>
<rect x="419.31" y="182.0" width="20.29" height="2.8" fill="#111"/>
<text x="359.3" y="177.0" font-size="5.4" font-family='"Liberation Serif", serif' text-anchor="middle" fill="#222" font-weight="normal" dominant-baseline="central">0</text>
<text x="368.8" y="177.0" font-size="5.4" font-family='"Liberation Serif", serif' text-anchor="middle" fill="#222" font-weight="normal" dominant-baseline="central">15</text>
<text x="378.6" y="177.0" font-size="5.4" font-family='"Liberation Serif", serif' text-anchor="middle" fill="#222" font-weight="normal" dominant-baseline="central">30</text>
<text x="399.0" y="177.0" font-size="5.4" font-family='"Liberation Serif", serif' text-anchor="middle" fill="#222" font-weight="normal" dominant-baseline="central">60</text>
<text x="418.8" y="177.0" font-size="5.4" font-family='"Liberation Serif", serif' text-anchor="middle" fill="#222" font-weight="normal" dominant-baseline="central">90</text>
<text x="438.8" y="177.0" font-size="5.4" font-family='"Liberation Serif", serif' text-anchor="middle" fill="#222" font-weight="normal" dominant-baseline="central">120</text>
<text x="445.6" y="183.2" font-size="4.6" font-family='"Liberation Serif", serif' text-anchor="middle" fill="#333" font-weight="normal" dominant-baseline="central">Km</text>
</g>
<g id="panelB">
<rect x="542.1" y="16.5" width="104.7" height="188.7" fill="#fff" stroke="#8c8c8c" stroke-width="1.6"/>
<path d="M541.6,205.2 L646.8,205.2 L646.8,15.9" fill="none" stroke="#444" stroke-width="1.15"/>
<g clip-path="url(#clipB)">
<rect x="544" y="18" width="50" height="186" fill="#0f0f7c"/>
<path d="M544,18 L594,18 L594,110.6 C582,107.4 566,107.4 558,109.2 C552,110.6 548,112.0 544,113.6 Z" fill="#1f378f"/>
<path d="M544,18 L594,18 L594,83.6 C580,87.6 560,88.6 544,89.6 Z" fill="#22619c"/>
<path d="M544,18 L594,18 L594,60.0 C582,65.2 560,68.6 544,69.7 Z" fill="#1d90ab"/>
<path d="M544,18 L594,18 L594.00,23.40 C593.67,23.78 593.00,24.60 592.00,25.70 C591.00,26.80 590.00,28.20 588.00,30.00 C586.00,31.80 583.00,34.50 580.00,36.50 C577.00,38.50 573.83,40.42 570.00,42.00 C566.17,43.58 561.33,45.07 557.00,46.00 C552.67,46.93 546.17,47.33 544.00,47.60 Z" fill="#38ab7c"/>
</g>
<g>
<circle cx="632.0" cy="31.6" r="6.5" fill="#fff" stroke="#1a1a1a" stroke-width="1.00"/>
<polygon points="635.68,27.92 633.24,32.84 632.0,31.6" fill="#1a1a1a"/>
<polygon points="635.68,27.92 630.76,30.36 632.0,31.6" fill="#6a6a6a" stroke="#1a1a1a" stroke-width="0.25"/>
<polygon points="635.68,35.28 630.76,32.84 632.0,31.6" fill="#1a1a1a"/>
<polygon points="635.68,35.28 633.24,30.36 632.0,31.6" fill="#6a6a6a" stroke="#1a1a1a" stroke-width="0.25"/>
<polygon points="628.32,35.28 630.76,30.36 632.0,31.6" fill="#1a1a1a"/>
<polygon points="628.32,35.28 633.24,32.84 632.0,31.6" fill="#6a6a6a" stroke="#1a1a1a" stroke-width="0.25"/>
<polygon points="628.32,27.92 633.24,30.36 632.0,31.6" fill="#1a1a1a"/>
<polygon points="628.32,27.92 630.76,32.84 632.0,31.6" fill="#6a6a6a" stroke="#1a1a1a" stroke-width="0.25"/>
<polygon points="632.00,24.00 633.52,30.08 632.0,31.6" fill="#1a1a1a"/>
<polygon points="632.00,24.00 630.48,30.08 632.0,31.6" fill="#6a6a6a" stroke="#1a1a1a" stroke-width="0.3"/>
<polygon points="639.61,31.60 633.52,33.12 632.0,31.6" fill="#1a1a1a"/>
<polygon points="639.61,31.60 633.52,30.08 632.0,31.6" fill="#6a6a6a" stroke="#1a1a1a" stroke-width="0.3"/>
<polygon points="632.00,39.20 630.48,33.12 632.0,31.6" fill="#1a1a1a"/>
<polygon points="632.00,39.20 633.52,33.12 632.0,31.6" fill="#6a6a6a" stroke="#1a1a1a" stroke-width="0.3"/>
<polygon points="624.39,31.60 630.48,30.08 632.0,31.6" fill="#1a1a1a"/>
<polygon points="624.39,31.60 630.48,33.12 632.0,31.6" fill="#6a6a6a" stroke="#1a1a1a" stroke-width="0.3"/>
<text x="632.0" y="21.400000000000002" font-size="3.5" font-family='"Liberation Serif", serif' text-anchor="middle" fill="#445" font-weight="normal" dominant-baseline="central">N</text>
<text x="632.0" y="42.099999999999994" font-size="3.5" font-family='"Liberation Serif", serif' text-anchor="middle" fill="#445" font-weight="normal" dominant-baseline="central">S</text>
<text x="621.5" y="31.6" font-size="3.5" font-family='"Liberation Serif", serif' text-anchor="middle" fill="#445" font-weight="normal" dominant-baseline="central">W</text>
<text x="642.5" y="31.6" font-size="3.5" font-family='"Liberation Serif", serif' text-anchor="middle" fill="#445" font-weight="normal" dominant-baseline="central">E</text>
</g>
<text x="593.4" y="158.0" font-size="4.08" font-family='"Liberation Sans", sans-serif' text-anchor="start" fill="#111" font-weight="bold" dominant-baseline="central">Soil Organic Carbon (g/kg)</text>
<rect x="593.7" y="162.00" width="9.4" height="4.3" fill="#38ab7c"/>
<text x="604.4" y="164.15" font-size="4.3" font-family='"Liberation Serif", serif' text-anchor="start" fill="#1c1c1c" font-weight="normal" dominant-baseline="central">211.23 - 238.76</text>
<rect x="593.7" y="168.02" width="9.4" height="4.3" fill="#1d90ab"/>
<text x="604.4" y="170.17000000000002" font-size="4.3" font-family='"Liberation Serif", serif' text-anchor="start" fill="#1c1c1c" font-weight="normal" dominant-baseline="central">238.76 - 269.76</text>
<rect x="593.7" y="174.04" width="9.4" height="4.3" fill="#22619c"/>
<text x="604.4" y="176.19" font-size="4.3" font-family='"Liberation Serif", serif' text-anchor="start" fill="#1c1c1c" font-weight="normal" dominant-baseline="central">269.76 - 300.76</text>
<rect x="593.7" y="180.06" width="9.4" height="4.3" fill="#1f378f"/>
<text x="604.4" y="182.21" font-size="4.3" font-family='"Liberation Serif", serif' text-anchor="start" fill="#1c1c1c" font-weight="normal" dominant-baseline="central">300.76 - 331.76</text>
<rect x="593.7" y="186.08" width="9.4" height="4.3" fill="#0f0f7c"/>
<text x="604.4" y="188.23" font-size="4.3" font-family='"Liberation Serif", serif' text-anchor="start" fill="#1c1c1c" font-weight="normal" dominant-baseline="central">331.76 - 343.81</text>
<rect x="593.7" y="199.39999999999998" width="45.5" height="2.1" fill="#fff" stroke="#111" stroke-width="0.3"/>
<rect x="593.70" y="199.39999999999998" width="3.28" height="2.1" fill="#111"/>
<rect x="599.71" y="199.39999999999998" width="2.91" height="2.1" fill="#111"/>
<rect x="605.21" y="199.39999999999998" width="11.15" height="2.1" fill="#111"/>
<rect x="627.51" y="199.39999999999998" width="11.69" height="2.1" fill="#111"/>
<text x="594.3" y="196.0" font-size="4.4" font-family='"Liberation Serif", serif' text-anchor="middle" fill="#3a4660" font-weight="normal" dominant-baseline="central">0</text>
<text x="598.8" y="196.0" font-size="4.4" font-family='"Liberation Serif", serif' text-anchor="middle" fill="#3a4660" font-weight="normal" dominant-baseline="central">1.5</text>
<text x="604.4" y="196.0" font-size="4.4" font-family='"Liberation Serif", serif' text-anchor="middle" fill="#3a4660" font-weight="normal" dominant-baseline="central">3</text>
<text x="615.6" y="196.0" font-size="4.4" font-family='"Liberation Serif", serif' text-anchor="middle" fill="#3a4660" font-weight="normal" dominant-baseline="central">6</text>
<text x="626.8" y="196.0" font-size="4.4" font-family='"Liberation Serif", serif' text-anchor="middle" fill="#3a4660" font-weight="normal" dominant-baseline="central">9</text>
<text x="637.6" y="196.0" font-size="4.4" font-family='"Liberation Serif", serif' text-anchor="middle" fill="#3a4660" font-weight="normal" dominant-baseline="central">12</text>
<text x="641.6" y="200.4" font-size="3.0" font-family='"Liberation Serif", serif' text-anchor="middle" fill="#333" font-weight="normal" dominant-baseline="central">m</text>
<text x="605.8" y="11.9" font-size="4.5" font-family='"Liberation Serif", serif' text-anchor="middle" fill="#111" font-weight="normal" dominant-baseline="central">122°32'44"E</text>
<text x="605.6" y="210.1" font-size="4.5" font-family='"Liberation Serif", serif' text-anchor="middle" fill="#111" font-weight="normal" dominant-baseline="central">122°32'44"E</text>
<line x1="606.4" y1="14.6" x2="606.4" y2="16.8" stroke="#333" stroke-width="0.5"/>
<line x1="606.4" y1="203.6" x2="606.4" y2="205.8" stroke="#333" stroke-width="0.5"/>
<text x="538.0" y="53.0" font-size="4.5" font-family='"Liberation Serif", serif' text-anchor="middle" fill="#111" font-weight="normal" dominant-baseline="central" transform="rotate(-90 538.0 53.0)">51°27'5"N</text>
<text x="651.5" y="53.0" font-size="4.5" font-family='"Liberation Serif", serif' text-anchor="middle" fill="#111" font-weight="normal" dominant-baseline="central" transform="rotate(-90 651.5 53.0)">51°27'5"N</text>
<line x1="540.4" y1="53.0" x2="542.6" y2="53.0" stroke="#333" stroke-width="0.5"/>
<line x1="646" y1="53.0" x2="648.2" y2="53.0" stroke="#333" stroke-width="0.5"/>
<text x="538.0" y="164.2" font-size="4.5" font-family='"Liberation Serif", serif' text-anchor="middle" fill="#111" font-weight="normal" dominant-baseline="central" transform="rotate(-90 538.0 164.2)">51°27'4"N</text>
<text x="651.5" y="164.2" font-size="4.5" font-family='"Liberation Serif", serif' text-anchor="middle" fill="#111" font-weight="normal" dominant-baseline="central" transform="rotate(-90 651.5 164.2)">51°27'4"N</text>
<line x1="540.4" y1="164.2" x2="542.6" y2="164.2" stroke="#333" stroke-width="0.5"/>
<line x1="646" y1="164.2" x2="648.2" y2="164.2" stroke="#333" stroke-width="0.5"/>
</g>
<g id="panelC">
<rect x="136.5" y="243.3" width="214.7" height="127.8" fill="#fff" stroke="#999" stroke-width="1.2"/>
<path d="M136.5,371.7 L136.5,243.3" fill="none" stroke="#444" stroke-width="1.1"/>
<path d="M136,243.3 L351.2,243.3" fill="none" stroke="#6a6a6a" stroke-width="1.15"/>
<g clip-path="url(#clipC)">
<rect x="142" y="244" width="209" height="87" fill="#ffff80"/>
<path d="M142,243 L244.10,243.00 C244.17,243.50 244.12,243.38 244.50,246.00 C244.88,248.62 246.05,254.62 246.40,258.70 C246.75,262.78 247.15,266.20 246.60,270.50 C246.05,274.80 244.85,280.22 243.10,284.50 C241.35,288.78 239.22,292.48 236.10,296.20 C232.98,299.92 228.70,303.87 224.40,306.80 C220.10,309.73 215.38,312.05 210.30,313.80 C205.22,315.55 199.37,316.72 193.90,317.30 C188.43,317.88 182.97,317.60 177.50,317.30 C172.03,317.00 167.02,316.38 161.10,315.50 C155.18,314.62 145.18,312.58 142.00,312.00 Z" fill="#bdf55f"/>
<path d="M142,243 L163.50,243.00 C163.88,243.28 163.85,243.45 165.80,244.70 C167.75,245.95 172.27,247.97 175.20,250.50 C178.13,253.03 181.33,256.57 183.40,259.90 C185.47,263.23 187.02,267.18 187.60,270.50 C188.18,273.82 188.00,276.88 186.90,279.80 C185.80,282.72 183.35,285.85 181.00,288.00 C178.65,290.15 176.12,291.52 172.80,292.70 C169.48,293.88 164.62,294.82 161.10,295.10 C157.58,295.38 154.88,294.85 151.70,294.40 C148.52,293.95 143.62,292.73 142.00,292.40 Z" fill="#80ea3a"/>
</g>
<text x="144.0" y="339.7" font-size="3.88" font-family='"Liberation Sans", sans-serif' text-anchor="start" fill="#111" font-weight="bold" dominant-baseline="central">Soil Organic Carbon (g/kg)</text>
<rect x="144.1" y="343.10" width="8.4" height="3.9" fill="#ffff80" stroke="#999" stroke-width="0.3"/>
<text x="154.0" y="345.05" font-size="4.12" font-family='"Liberation Serif", serif' text-anchor="start" fill="#2a3140" font-weight="normal" dominant-baseline="central">31.78 - 44.78</text>
<rect x="144.1" y="348.75" width="8.4" height="3.9" fill="#bdf55f" stroke="#999" stroke-width="0.3"/>
<text x="154.0" y="350.7" font-size="4.12" font-family='"Liberation Serif", serif' text-anchor="start" fill="#2a3140" font-weight="normal" dominant-baseline="central">44.78 - 57.78</text>
<rect x="144.1" y="354.40" width="8.4" height="3.9" fill="#80ea3a" stroke="#999" stroke-width="0.3"/>
<text x="154.0" y="356.35" font-size="4.12" font-family='"Liberation Serif", serif' text-anchor="start" fill="#2a3140" font-weight="normal" dominant-baseline="central">57.78 - 70.78</text>
<g>
<circle cx="338.7" cy="344.5" r="6.1" fill="#fff" stroke="#1a1a1a" stroke-width="1.00"/>
<polygon points="342.15,341.05 339.86,345.66 338.7,344.5" fill="#1a1a1a"/>
<polygon points="342.15,341.05 337.54,343.34 338.7,344.5" fill="#6a6a6a" stroke="#1a1a1a" stroke-width="0.25"/>
<polygon points="342.15,347.95 337.54,345.66 338.7,344.5" fill="#1a1a1a"/>
<polygon points="342.15,347.95 339.86,343.34 338.7,344.5" fill="#6a6a6a" stroke="#1a1a1a" stroke-width="0.25"/>
<polygon points="335.25,347.95 337.54,343.34 338.7,344.5" fill="#1a1a1a"/>
<polygon points="335.25,347.95 339.86,345.66 338.7,344.5" fill="#6a6a6a" stroke="#1a1a1a" stroke-width="0.25"/>
<polygon points="335.25,341.05 339.86,343.34 338.7,344.5" fill="#1a1a1a"/>
<polygon points="335.25,341.05 337.54,345.66 338.7,344.5" fill="#6a6a6a" stroke="#1a1a1a" stroke-width="0.25"/>
<polygon points="338.70,337.36 340.12,343.08 338.7,344.5" fill="#1a1a1a"/>
<polygon points="338.70,337.36 337.28,343.08 338.7,344.5" fill="#6a6a6a" stroke="#1a1a1a" stroke-width="0.3"/>
<polygon points="345.84,344.50 340.12,345.92 338.7,344.5" fill="#1a1a1a"/>
<polygon points="345.84,344.50 340.12,343.08 338.7,344.5" fill="#6a6a6a" stroke="#1a1a1a" stroke-width="0.3"/>
<polygon points="338.70,351.64 337.28,345.92 338.7,344.5" fill="#1a1a1a"/>
<polygon points="338.70,351.64 340.12,345.92 338.7,344.5" fill="#6a6a6a" stroke="#1a1a1a" stroke-width="0.3"/>
<polygon points="331.56,344.50 337.28,343.08 338.7,344.5" fill="#1a1a1a"/>
<polygon points="331.56,344.50 337.28,345.92 338.7,344.5" fill="#6a6a6a" stroke="#1a1a1a" stroke-width="0.3"/>
<text x="338.7" y="334.9" font-size="2.9" font-family='"Liberation Serif", serif' text-anchor="middle" fill="#556" font-weight="normal" dominant-baseline="central">N</text>
<text x="338.7" y="354.40000000000003" font-size="2.9" font-family='"Liberation Serif", serif' text-anchor="middle" fill="#556" font-weight="normal" dominant-baseline="central">S</text>
<text x="328.79999999999995" y="344.5" font-size="2.9" font-family='"Liberation Serif", serif' text-anchor="middle" fill="#556" font-weight="normal" dominant-baseline="central">W</text>
<text x="348.6" y="344.5" font-size="2.9" font-family='"Liberation Serif", serif' text-anchor="middle" fill="#556" font-weight="normal" dominant-baseline="central">E</text>
</g>
<rect x="273.3" y="365.15" width="68.30000000000001" height="2.1" fill="#fff" stroke="#111" stroke-width="0.3"/>
<rect x="273.30" y="365.15" width="4.64" height="2.1" fill="#111"/>
<rect x="281.63" y="365.15" width="4.44" height="2.1" fill="#111"/>
<rect x="290.38" y="365.15" width="17.14" height="2.1" fill="#111"/>
<rect x="323.98" y="365.15" width="17.62" height="2.1" fill="#111"/>
<text x="273.7" y="362.2" font-size="3.9" font-family='"Liberation Sans", sans-serif' text-anchor="middle" fill="#3a4660" font-weight="normal" dominant-baseline="central">0</text>
<text x="281.7" y="362.2" font-size="3.9" font-family='"Liberation Sans", sans-serif' text-anchor="middle" fill="#3a4660" font-weight="normal" dominant-baseline="central">2.5</text>
<text x="290.2" y="362.2" font-size="3.9" font-family='"Liberation Sans", sans-serif' text-anchor="middle" fill="#3a4660" font-weight="normal" dominant-baseline="central">5</text>
<text x="307.4" y="362.2" font-size="3.9" font-family='"Liberation Sans", sans-serif' text-anchor="middle" fill="#3a4660" font-weight="normal" dominant-baseline="central">10</text>
<text x="324.6" y="362.2" font-size="3.9" font-family='"Liberation Sans", sans-serif' text-anchor="middle" fill="#3a4660" font-weight="normal" dominant-baseline="central">15</text>
<text x="341.4" y="362.2" font-size="3.9" font-family='"Liberation Sans", sans-serif' text-anchor="middle" fill="#3a4660" font-weight="normal" dominant-baseline="central">20</text>
<text x="344.0" y="366.3" font-size="2.8" font-family='"Liberation Serif", serif' text-anchor="middle" fill="#333" font-weight="normal" dominant-baseline="central">m</text>
<text x="178.5" y="238.7" font-size="4.7" font-family='"Liberation Serif", serif' text-anchor="middle" fill="#161616" font-weight="normal" dominant-baseline="central">121°24'59"E</text>
<text x="178.5" y="375.9" font-size="4.7" font-family='"Liberation Serif", serif' text-anchor="middle" fill="#161616" font-weight="normal" dominant-baseline="central">121°24'59"E</text>
<line x1="178.9" y1="241.4" x2="178.9" y2="243.4" stroke="#333" stroke-width="0.5"/>
<line x1="178.9" y1="370.9" x2="178.9" y2="372.9" stroke="#333" stroke-width="0.5"/>
<text x="283.6" y="238.7" font-size="4.7" font-family='"Liberation Serif", serif' text-anchor="middle" fill="#161616" font-weight="normal" dominant-baseline="central">121°25'0"E</text>
<text x="283.6" y="375.9" font-size="4.7" font-family='"Liberation Serif", serif' text-anchor="middle" fill="#161616" font-weight="normal" dominant-baseline="central">121°25'0"E</text>
<line x1="284.0" y1="241.4" x2="284.0" y2="243.4" stroke="#333" stroke-width="0.5"/>
<line x1="284.0" y1="370.9" x2="284.0" y2="372.9" stroke="#333" stroke-width="0.5"/>
<text x="132.5" y="248.3" font-size="4.7" font-family='"Liberation Serif", serif' text-anchor="middle" fill="#161616" font-weight="normal" dominant-baseline="central" transform="rotate(-90 132.5 248.3)">50°43'56"N</text>
<text x="355.9" y="248.3" font-size="4.7" font-family='"Liberation Serif", serif' text-anchor="middle" fill="#161616" font-weight="normal" dominant-baseline="central" transform="rotate(-90 355.9 248.3)">50°43'56"N</text>
<line x1="134.8" y1="248.3" x2="136.8" y2="248.3" stroke="#333" stroke-width="0.5"/>
<line x1="351" y1="248.3" x2="353" y2="248.3" stroke="#333" stroke-width="0.5"/>
<text x="132.5" y="344.4" font-size="4.7" font-family='"Liberation Serif", serif' text-anchor="middle" fill="#161616" font-weight="normal" dominant-baseline="central" transform="rotate(-90 132.5 344.4)">50°43'55"N</text>
<text x="355.9" y="344.4" font-size="4.7" font-family='"Liberation Serif", serif' text-anchor="middle" fill="#161616" font-weight="normal" dominant-baseline="central" transform="rotate(-90 355.9 344.4)">50°43'55"N</text>
<line x1="134.8" y1="344.4" x2="136.8" y2="344.4" stroke="#333" stroke-width="0.5"/>
<line x1="351" y1="344.4" x2="353" y2="344.4" stroke="#333" stroke-width="0.5"/>
</g>
<g id="panelD">
<rect x="420.8" y="231.5" width="182.5" height="134.0" fill="#fff" stroke="#8c8c8c" stroke-width="1.2"/>
<path d="M420.8,366.1 L420.8,231.5 L603.3,231.5" fill="none" stroke="#6a6a6a" stroke-width="1.1"/>
<g clip-path="url(#clipD)">
<rect x="426" y="233" width="176" height="94" fill="#80ea3a"/>
<path d="M426,233 L463.30,233.00 C463.30,235.33 463.07,242.42 463.30,247.00 C463.53,251.58 464.02,256.00 464.70,260.50 C465.38,265.00 466.50,269.48 467.40,274.00 C468.30,278.52 469.42,283.07 470.10,287.60 C470.78,292.13 470.95,296.68 471.50,301.20 C472.05,305.72 472.83,310.40 473.40,314.70 C473.97,319.00 474.65,324.95 474.90,327.00 L426,327 Z" fill="#bdf55f"/>
<path d="M426,327 L426.00,308.40 C427.08,307.87 430.12,305.88 432.50,305.20 C434.88,304.52 437.88,304.20 440.30,304.30 C442.72,304.40 444.97,304.97 447.00,305.80 C449.03,306.63 450.90,308.03 452.50,309.30 C454.10,310.57 455.47,312.05 456.60,313.40 C457.73,314.75 458.60,315.97 459.30,317.40 C460.00,318.83 460.45,320.40 460.80,322.00 C461.15,323.60 461.30,326.17 461.40,327.00 Z" fill="#ffff80"/>
<path d="M602,232 L575.0,232 L575.00,232.00 C575.10,232.29 574.80,232.17 575.60,233.75 C576.40,235.33 578.07,238.82 579.80,241.50 C581.53,244.18 583.75,247.20 586.00,249.80 C588.25,252.40 590.80,255.02 593.30,257.10 C595.80,259.18 599.38,261.25 601.00,262.30 C602.62,263.35 602.67,263.22 603.00,263.40 L603,232 Z" fill="#bdf55f"/>
<path d="M547.50,249.80 C550.80,249.87 554.77,250.33 557.90,251.90 C561.02,253.47 564.17,256.25 566.25,259.20 C568.33,262.15 569.77,266.48 570.40,269.60 C571.02,272.72 570.87,274.78 570.00,277.90 C569.13,281.02 567.57,285.17 565.20,288.30 C562.83,291.43 559.27,294.62 555.80,296.70 C552.33,298.78 548.22,300.28 544.40,300.80 C540.58,301.32 536.03,301.02 532.90,299.80 C529.77,298.58 527.23,296.45 525.60,293.50 C523.97,290.55 523.27,286.08 523.10,282.10 C522.93,278.12 523.48,273.60 524.60,269.60 C525.72,265.60 527.55,261.12 529.80,258.10 C532.05,255.08 535.15,252.88 538.10,251.50 C541.05,250.12 544.20,249.73 547.50,249.80 Z" fill="#38e012"/>
<path d="M492.6,327 L492.60,327.00 C492.33,325.40 490.45,320.22 491.00,317.40 C491.55,314.58 494.23,311.83 495.90,310.10 C497.57,308.37 499.43,307.68 501.00,307.00 C502.57,306.32 503.63,306.10 505.30,306.00 C506.97,305.90 509.28,305.97 511.00,306.40 C512.72,306.83 514.60,307.67 515.60,308.60 C516.60,309.53 516.87,310.60 517.00,312.00 C517.13,313.40 516.83,315.33 516.40,317.00 C515.97,318.67 515.12,320.33 514.40,322.00 C513.68,323.67 512.48,326.17 512.10,327.00 Z" fill="#38e012"/>
</g>
<text x="427.2" y="335.5" font-size="3.76" font-family='"Liberation Sans", sans-serif' text-anchor="start" fill="#111" font-weight="bold" dominant-baseline="central">Soil Organic Carbon (g/kg)</text>
<rect x="427.2" y="338.50" width="7.8" height="3.6" fill="#ffff80" stroke="#999" stroke-width="0.25"/>
<text x="436.4" y="340.3" font-size="4.1" font-family='"Liberation Serif", serif' text-anchor="start" fill="#2a3140" font-weight="normal" dominant-baseline="central">50.78 - 61.87</text>
<rect x="427.2" y="344.07" width="7.8" height="3.6" fill="#bdf55f" stroke="#999" stroke-width="0.25"/>
<text x="436.4" y="345.87" font-size="4.1" font-family='"Liberation Serif", serif' text-anchor="start" fill="#2a3140" font-weight="normal" dominant-baseline="central">61.87 - 72.87</text>
<rect x="427.2" y="349.64" width="7.8" height="3.6" fill="#80ea3a" stroke="#999" stroke-width="0.25"/>
<text x="436.4" y="351.44" font-size="4.1" font-family='"Liberation Serif", serif' text-anchor="start" fill="#2a3140" font-weight="normal" dominant-baseline="central">72.87 - 83.87</text>
<rect x="427.2" y="355.21" width="7.8" height="3.6" fill="#38e012" stroke="#999" stroke-width="0.25"/>
<text x="436.4" y="357.01" font-size="4.1" font-family='"Liberation Serif", serif' text-anchor="start" fill="#2a3140" font-weight="normal" dominant-baseline="central">83.87 - 94.87</text>
<g>
<circle cx="590.6" cy="341.2" r="6.1" fill="#fff" stroke="#1a1a1a" stroke-width="1.00"/>
<polygon points="594.05,337.75 591.76,342.36 590.6,341.2" fill="#1a1a1a"/>
<polygon points="594.05,337.75 589.44,340.04 590.6,341.2" fill="#6a6a6a" stroke="#1a1a1a" stroke-width="0.25"/>
<polygon points="594.05,344.65 589.44,342.36 590.6,341.2" fill="#1a1a1a"/>
<polygon points="594.05,344.65 591.76,340.04 590.6,341.2" fill="#6a6a6a" stroke="#1a1a1a" stroke-width="0.25"/>
<polygon points="587.15,344.65 589.44,340.04 590.6,341.2" fill="#1a1a1a"/>
<polygon points="587.15,344.65 591.76,342.36 590.6,341.2" fill="#6a6a6a" stroke="#1a1a1a" stroke-width="0.25"/>
<polygon points="587.15,337.75 591.76,340.04 590.6,341.2" fill="#1a1a1a"/>
<polygon points="587.15,337.75 589.44,342.36 590.6,341.2" fill="#6a6a6a" stroke="#1a1a1a" stroke-width="0.25"/>
<polygon points="590.60,334.06 592.02,339.78 590.6,341.2" fill="#1a1a1a"/>
<polygon points="590.60,334.06 589.18,339.78 590.6,341.2" fill="#6a6a6a" stroke="#1a1a1a" stroke-width="0.3"/>
<polygon points="597.74,341.20 592.02,342.62 590.6,341.2" fill="#1a1a1a"/>
<polygon points="597.74,341.20 592.02,339.78 590.6,341.2" fill="#6a6a6a" stroke="#1a1a1a" stroke-width="0.3"/>
<polygon points="590.60,348.34 589.18,342.62 590.6,341.2" fill="#1a1a1a"/>
<polygon points="590.60,348.34 592.02,342.62 590.6,341.2" fill="#6a6a6a" stroke="#1a1a1a" stroke-width="0.3"/>
<polygon points="583.46,341.20 589.18,339.78 590.6,341.2" fill="#1a1a1a"/>
<polygon points="583.46,341.20 589.18,342.62 590.6,341.2" fill="#6a6a6a" stroke="#1a1a1a" stroke-width="0.3"/>
<text x="590.6" y="331.59999999999997" font-size="2.9" font-family='"Liberation Serif", serif' text-anchor="middle" fill="#556" font-weight="normal" dominant-baseline="central">N</text>
<text x="590.6" y="351.1" font-size="2.9" font-family='"Liberation Serif", serif' text-anchor="middle" fill="#556" font-weight="normal" dominant-baseline="central">S</text>
<text x="580.7" y="341.2" font-size="2.9" font-family='"Liberation Serif", serif' text-anchor="middle" fill="#556" font-weight="normal" dominant-baseline="central">W</text>
<text x="600.5" y="341.2" font-size="2.9" font-family='"Liberation Serif", serif' text-anchor="middle" fill="#556" font-weight="normal" dominant-baseline="central">E</text>
</g>
<rect x="525.9" y="360.84999999999997" width="66.10000000000002" height="2.1" fill="#fff" stroke="#111" stroke-width="0.3"/>
<rect x="525.90" y="360.84999999999997" width="4.86" height="2.1" fill="#111"/>
<rect x="534.43" y="360.84999999999997" width="4.63" height="2.1" fill="#111"/>
<rect x="542.95" y="360.84999999999997" width="16.46" height="2.1" fill="#111"/>
<rect x="575.81" y="360.84999999999997" width="16.19" height="2.1" fill="#111"/>
<text x="526.3" y="357.8" font-size="3.8" font-family='"Liberation Sans", sans-serif' text-anchor="middle" fill="#3a4660" font-weight="normal" dominant-baseline="central">0</text>
<text x="534.7" y="357.8" font-size="3.8" font-family='"Liberation Sans", sans-serif' text-anchor="middle" fill="#3a4660" font-weight="normal" dominant-baseline="central">5</text>
<text x="543.0" y="357.8" font-size="3.8" font-family='"Liberation Sans", sans-serif' text-anchor="middle" fill="#3a4660" font-weight="normal" dominant-baseline="central">10</text>
<text x="559.2" y="357.8" font-size="3.8" font-family='"Liberation Sans", sans-serif' text-anchor="middle" fill="#3a4660" font-weight="normal" dominant-baseline="central">20</text>
<text x="575.8" y="357.8" font-size="3.8" font-family='"Liberation Sans", sans-serif' text-anchor="middle" fill="#3a4660" font-weight="normal" dominant-baseline="central">30</text>
<text x="592.2" y="357.8" font-size="3.8" font-family='"Liberation Sans", sans-serif' text-anchor="middle" fill="#3a4660" font-weight="normal" dominant-baseline="central">40</text>
<text x="594.8" y="362.0" font-size="2.8" font-family='"Liberation Serif", serif' text-anchor="middle" fill="#333" font-weight="normal" dominant-baseline="central">m</text>
<text x="424.5" y="227.2" font-size="4.35" font-family='"Liberation Serif", serif' text-anchor="middle" fill="#161616" font-weight="normal" dominant-baseline="central">121°35'1"E</text>
<text x="424.5" y="369.6" font-size="4.35" font-family='"Liberation Serif", serif' text-anchor="middle" fill="#161616" font-weight="normal" dominant-baseline="central">121°35'1"E</text>
<line x1="425.5" y1="229.6" x2="425.5" y2="231.5" stroke="#333" stroke-width="0.5"/>
<line x1="425.5" y1="365.3" x2="425.5" y2="367.2" stroke="#333" stroke-width="0.5"/>
<text x="475.5" y="227.2" font-size="4.35" font-family='"Liberation Serif", serif' text-anchor="middle" fill="#161616" font-weight="normal" dominant-baseline="central">121°35'2"E</text>
<text x="475.5" y="369.6" font-size="4.35" font-family='"Liberation Serif", serif' text-anchor="middle" fill="#161616" font-weight="normal" dominant-baseline="central">121°35'2"E</text>
<line x1="476.5" y1="229.6" x2="476.5" y2="231.5" stroke="#333" stroke-width="0.5"/>
<line x1="476.5" y1="365.3" x2="476.5" y2="367.2" stroke="#333" stroke-width="0.5"/>
<text x="526.6" y="227.2" font-size="4.35" font-family='"Liberation Serif", serif' text-anchor="middle" fill="#161616" font-weight="normal" dominant-baseline="central">121°35'3"E</text>
<text x="526.6" y="369.6" font-size="4.35" font-family='"Liberation Serif", serif' text-anchor="middle" fill="#161616" font-weight="normal" dominant-baseline="central">121°35'3"E</text>
<line x1="527.6" y1="229.6" x2="527.6" y2="231.5" stroke="#333" stroke-width="0.5"/>
<line x1="527.6" y1="365.3" x2="527.6" y2="367.2" stroke="#333" stroke-width="0.5"/>
<text x="577.7" y="227.2" font-size="4.35" font-family='"Liberation Serif", serif' text-anchor="middle" fill="#161616" font-weight="normal" dominant-baseline="central">121°35'4"E</text>
<text x="577.7" y="369.6" font-size="4.35" font-family='"Liberation Serif", serif' text-anchor="middle" fill="#161616" font-weight="normal" dominant-baseline="central">121°35'4"E</text>
<line x1="578.7" y1="229.6" x2="578.7" y2="231.5" stroke="#333" stroke-width="0.5"/>
<line x1="578.7" y1="365.3" x2="578.7" y2="367.2" stroke="#333" stroke-width="0.5"/>
<text x="416.4" y="272.3" font-size="4.35" font-family='"Liberation Serif", serif' text-anchor="middle" fill="#161616" font-weight="normal" dominant-baseline="central" transform="rotate(-90 416.4 272.3)">50°50'2"N</text>
<text x="607.9" y="272.3" font-size="4.35" font-family='"Liberation Serif", serif' text-anchor="middle" fill="#161616" font-weight="normal" dominant-baseline="central" transform="rotate(-90 607.9 272.3)">50°50'2"N</text>
<line x1="419.0" y1="272.3" x2="420.9" y2="272.3" stroke="#333" stroke-width="0.5"/>
<line x1="603.2" y1="272.3" x2="605.1" y2="272.3" stroke="#333" stroke-width="0.5"/>
<text x="416.4" y="323.0" font-size="4.35" font-family='"Liberation Serif", serif' text-anchor="middle" fill="#161616" font-weight="normal" dominant-baseline="central" transform="rotate(-90 416.4 323.0)">50°50'1"N</text>
<text x="607.9" y="323.0" font-size="4.35" font-family='"Liberation Serif", serif' text-anchor="middle" fill="#161616" font-weight="normal" dominant-baseline="central" transform="rotate(-90 607.9 323.0)">50°50'1"N</text>
<line x1="419.0" y1="323.0" x2="420.9" y2="323.0" stroke="#333" stroke-width="0.5"/>
<line x1="603.2" y1="323.0" x2="605.1" y2="323.0" stroke="#333" stroke-width="0.5"/>
</g>
</svg>
</body>
</html>
